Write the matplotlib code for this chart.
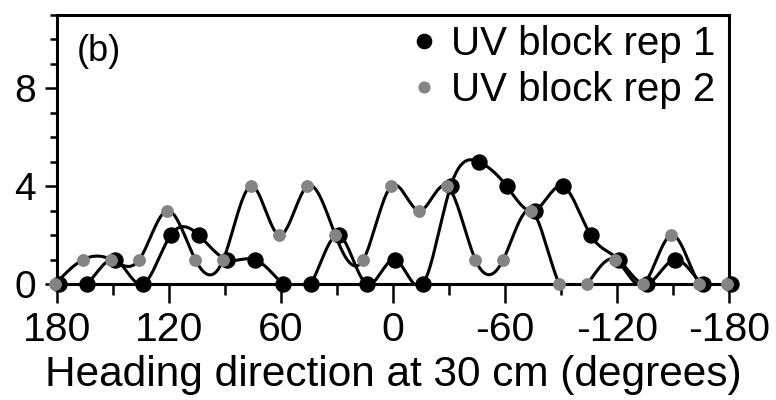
import numpy as np
import matplotlib
matplotlib.use("Agg")
import matplotlib.pyplot as plt
from matplotlib.ticker import MultipleLocator

plt.rcParams['font.family'] = ['Liberation Sans', 'DejaVu Sans']

# Heading directions (degrees) and counts for the two replicate blocks
heading = [180, 165, 150, 135, 120, 105, 90, 75, 60, 45, 30, 15, 0,
           -15, -30, -45, -60, -75, -90, -105, -120, -135, -150, -165, -180]
rep1 = [0, 0, 1, 0, 2, 2, 1, 1, 0, 0, 2, 0, 1,
        0, 4, 5, 4, 3, 4, 2, 1, 0, 1, 0, 0]
rep2 = [0, 1, 1, 1, 3, 1, 1, 4, 2, 4, 2, 1, 4,
        3, 4, 1, 1, 3, 0, 0, 1, 0, 2, 0, 0]
labels = ["UV block rep 1", "UV block rep 2"]
xticks = [180, 120, 60, 0, -60, -120, -180]
yticks = [0, 4, 8]


def natural_spline(x, y, n=800):
    """Natural cubic spline through (x, y), sampled densely."""
    x = np.asarray(x, float)
    y = np.asarray(y, float)
    order = np.argsort(x)
    x, y = x[order], y[order]
    m = len(x)
    h = np.diff(x)
    A = np.zeros((m, m))
    b = np.zeros(m)
    A[0, 0] = A[-1, -1] = 1.0
    for i in range(1, m - 1):
        A[i, i - 1] = h[i - 1]
        A[i, i] = 2 * (h[i - 1] + h[i])
        A[i, i + 1] = h[i]
        b[i] = 6 * ((y[i + 1] - y[i]) / h[i] - (y[i] - y[i - 1]) / h[i - 1])
    M = np.linalg.solve(A, b)
    xs = np.linspace(x[0], x[-1], n)
    idx = np.clip(np.searchsorted(x, xs) - 1, 0, m - 2)
    x0, x1 = x[idx], x[idx + 1]
    hh = x1 - x0
    t0 = x1 - xs
    t1 = xs - x0
    ys = (M[idx] * t0 ** 3 / (6 * hh) + M[idx + 1] * t1 ** 3 / (6 * hh)
          + (y[idx] / hh - M[idx] * hh / 6) * t0
          + (y[idx + 1] / hh - M[idx + 1] * hh / 6) * t1)
    return xs, ys


W, H = 776, 400
fig = plt.figure(figsize=(W / 100, H / 100), dpi=100)
ax_l, ax_r, ax_b, ax_t = 57, 729, 284, 15
ax = fig.add_axes([ax_l / W, 1 - ax_b / H, (ax_r - ax_l) / W, (ax_b - ax_t) / H])

grey = '#848484'
# small horizontal offsets so overlapping markers of the two blocks stay visible
h1 = np.array(heading, float) - 0.9
h2 = np.array(heading, float) + 0.9

for hx, vals in ((h1, rep1), (h2, rep2)):
    xs, ys = natural_spline(hx, vals)
    ax.plot(xs, ys, color='black', lw=2.2, zorder=2, clip_on=True)

ax.plot(h1, rep1, 'o', ls='none', color='black', ms=10.8, clip_on=False,
        zorder=3, label=labels[0])
ax.plot(h2, rep2, 'o', ls='none', color=grey, ms=8.2, clip_on=False,
        zorder=4, label=labels[1])

ax.set_xlim(180, -180)
ax.set_ylim(0, 11)
ax.set_xticks(xticks)
ax.set_xticklabels([str(v) for v in xticks])
ax.xaxis.set_minor_locator(MultipleLocator(30))
ax.set_yticks(yticks)
ax.yaxis.set_minor_locator(MultipleLocator(1))

ax.tick_params(axis='x', which='major', direction='out', width=1.8,
               length=13.5, labelsize=29.5, pad=6)
ax.tick_params(axis='x', which='minor', direction='out', width=1.8, length=8)
ax.tick_params(axis='y', which='major', direction='out', width=1.8,
               length=9, labelsize=28, pad=6)
ax.tick_params(axis='y', which='minor', direction='out', width=1.8, length=5)
for sp in ax.spines.values():
    sp.set_linewidth(2.2)

ax.set_xlabel("Heading direction at 30 cm (degrees)", fontsize=30.5,
              labelpad=4)

ax.text(20 / (ax_r - ax_l), 1 - 19 / (ax_b - ax_t), "(b)",
        transform=ax.transAxes, fontsize=26, va='top', ha='left')

leg = ax.legend(loc='upper right', frameon=False, fontsize=29,
                bbox_to_anchor=((715 - ax_l) / (ax_r - ax_l),
                                (ax_b - 25) / (ax_b - ax_t)),
                handlelength=0.6, handletextpad=0.35, borderaxespad=0.0,
                borderpad=0.0, labelspacing=0.2, markerscale=0.95)

fig.savefig("out.png", dpi=100)
